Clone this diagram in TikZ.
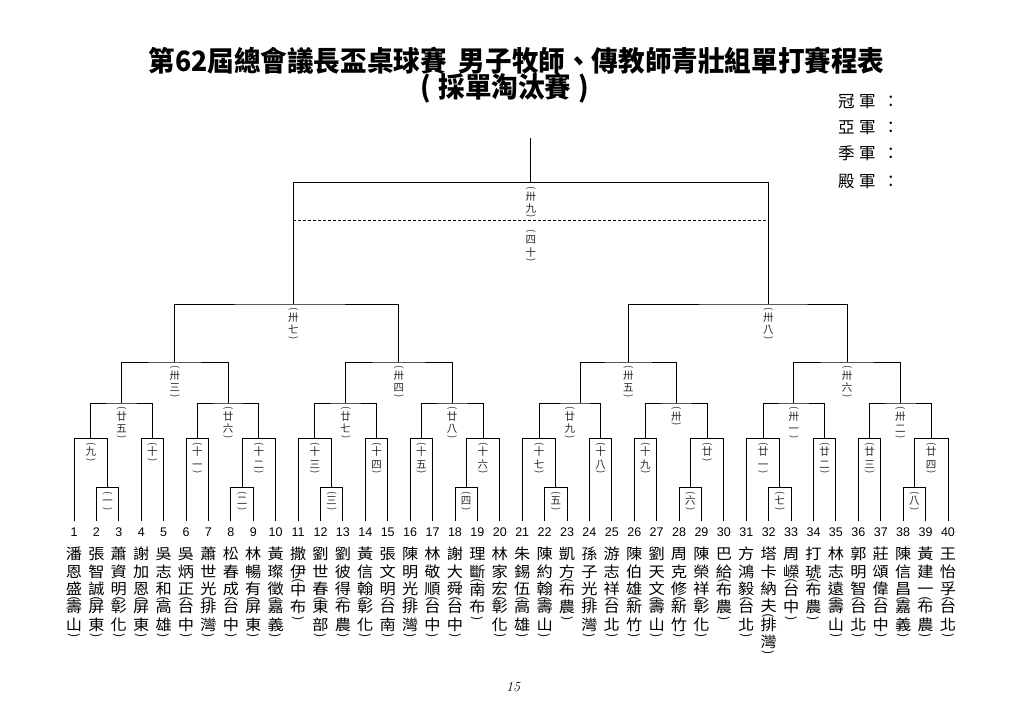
\documentclass[tikz,border=0pt]{standalone}
\usepackage{fontspec}
\usepackage{graphicx}
\usepackage{tikz}
\usetikzlibrary{calc,positioning}

\newfontfamily\cjk{Noto Sans CJK TC}
\newfontfamily\titlefont[FakeStretch=0.95]{Noto Sans CJK TC}
\newfontfamily\namefont[FakeStretch=1.08]{Noto Sans CJK TC}
\newfontfamily\numfont{Liberation Sans}

% vertical text: one box per character
\def\vrow#1{\hbox to 1em{\hss\vrule height .95em depth .21em width 0pt #1\hss}}
\let\vstackend\relax
\def\vstack#1{\vstackloop#1\vstackend}
\def\vstackloop#1{\ifx#1\vstackend\else\vrow{#1}\expandafter\vstackloop\fi}
% parentheses turned for vertical text
\def\npo{\hbox to 1em{\hss\raisebox{1.5pt}[0pt][0pt]{\rotatebox{-90}{\fontsize{12}{12}\selectfont(}}\hss}\kern1pt}
\def\npc{\hbox to 1em{\hss\raisebox{0pt}[0pt][4pt]{\rotatebox{-90}{\fontsize{12}{12}\selectfont)}}\hss}}
\def\lpo{\hbox to 1em{\hss\raisebox{4pt}[4.5pt][0pt]{\rotatebox{-90}{\fontsize{9.5}{9.5}\selectfont(}}\hss}}
\def\lpc{\hbox to 1em{\hss\raisebox{0pt}[0pt][4pt]{\rotatebox{-90}{\fontsize{9.5}{9.5}\selectfont)}}\hss}}
\newcommand\pname[2]{\vbox{\offinterlineskip
  \expandafter\vstack\expandafter{#1}\npo
  \expandafter\vstack\expandafter{#2}\npc}}
\newcommand\mlab[1]{\vbox{\offinterlineskip\lpo\vstack{#1}\lpc}}
% one match: [x of winner line]{name}{side a}{side b}{level}{number}
\newcommand\match[6][]{%
  \path ($(#3)!.5!(#4)$) coordinate (c#2);
  \ifx\relax#1\relax\coordinate (#2) at (c#2 |- 0,#5);\else\coordinate (#2) at (#1,#5);\fi
  \draw[bracket] (#3) |- (#2) -| (#4);
  \node[mlabel] (l#2) at (#2) {\mlab{#6}};
}

\begin{document}
\begin{tikzpicture}[x=1pt, y=-1pt, font=\cjk,
  bracket/.style={line width=0.9pt},
  mlabel/.style={anchor=north, yshift=-3pt, inner sep=0pt, text=black!85, font=\cjk\fontsize{10.5}{10.5}\selectfont},
  num/.style={inner sep=0pt, font=\numfont\fontsize{12.5}{12.5}\selectfont},
  pname/.style={anchor=north, inner sep=0pt, font=\namefont\fontsize{15}{18}\selectfont},
  rank/.style={anchor=west, inner sep=0pt, font=\cjk\fontsize{16.5}{16.5}\selectfont}]
\useasboundingbox (0,0) rectangle (1026,723);
% title
\node[font=\titlefont\bfseries\fontsize{28}{28}\selectfont] (title) at (516.5,61) {第62屆總會議長盃桌球賽\hspace{12pt}男子牧師、傳教師青壯組單打賽程表};
\node[font=\titlefont\bfseries\fontsize{28}{28}\selectfont] (subtitle) at (505,88) {(\hspace{7pt}採單淘汰賽\hspace{7pt})};
% places
\foreach \t/\y [count=\k] in {冠/101.7, 亞/127.7, 季/153.3, 殿/181.7}
  \node[rank] (rank\k) at (838,\y) {\t\kern4.5pt 軍\kern7pt ：};
% players
\foreach \nm/\rg [count=\i] in {潘恩盛/壽山,張智誠/屏東,蕭資明/彰化,謝加恩/屏東,吳志和/高雄,
  吳炳正/台中,蕭世光/排灣,松春成/台中,林暢有/屏東,黃璨徵/嘉義,
  撒伊/中布,劉世春/東部,劉彼得/布農,黃信翰/彰化,張文明/台南,
  陳明光/排灣,林敬順/台中,謝大舜/台中,理斷/南布,林家宏/彰化,
  朱錫伍/高雄,陳約翰/壽山,凱方/布農,孫子光/排灣,游志祥/台北,
  陳伯雄/新竹,劉天文/壽山,周克修/新竹,陳榮祥/彰化,巴給/布農,
  方鴻毅/台北,塔卡納夫/排灣,周嶸/台中,打琥/布農,林志遠/壽山,
  郭明智/台北,莊頌偉/台中,陳信昌/嘉義,黃建一/布農,王怡孚/台北}{
  \coordinate (p\i) at ({74+(\i-1)*22.41},521);
  \node[num] (n\i) at (p\i |- 0,532) {\i};
  \node[pname] (nm\i) at (p\i |- 0,545.3) {\pname{\nm}{\rg}};
}
% first round
\match{m1}{p2}{p3}{487.3}{一}
\match{m2}{p8}{p9}{487.3}{二}
\match{m3}{p12}{p13}{487.3}{三}
\match{m4}{p18}{p19}{487.3}{四}
\match{m5}{p22}{p23}{487.3}{五}
\match{m6}{p28}{p29}{487.3}{六}
\match{m7}{p32}{p33}{487.3}{七}
\match{m8}{p38}{p39}{487.3}{八}
% second round
\match{m9}{p1}{m1}{438.3}{九}
\match{m10}{p4}{p5}{438.3}{十}
\match{m11}{p6}{p7}{438.3}{十一}
\match{m12}{m2}{p10}{438.3}{十二}
\match{m13}{p11}{m3}{438.3}{十三}
\match{m14}{p14}{p15}{438.3}{十四}
\match{m15}{p16}{p17}{438.3}{十五}
\match{m16}{m4}{p20}{438.3}{十六}
\match{m17}{p21}{m5}{438.3}{十七}
\match{m18}{p24}{p25}{438.3}{十八}
\match{m19}{p26}{p27}{438.3}{十九}
\match{m20}{m6}{p30}{438.3}{廿}
\match{m21}{p31}{m7}{438.3}{廿一}
\match{m22}{p34}{p35}{438.3}{廿二}
\match{m23}{p36}{p37}{438.3}{廿三}
\match{m24}{m8}{p40}{438.3}{廿四}
% third round
\match{m25}{m9}{m10}{403}{廿五}
\match{m26}{m11}{m12}{403}{廿六}
\match{m27}{m13}{m14}{403}{廿七}
\match{m28}{m15}{m16}{403}{廿八}
% (廿九) sits mid-line, its winner line is off centre
\path ($(m17)!.5!(m18)$) coordinate (cm29);
\coordinate (m29) at (580.5,403);
\draw[bracket] (m17) |- (m29) -| (m18);
\node[mlabel] (lm29) at (cm29 |- m29) {\mlab{廿九}};
\match{m30}{m19}{m20}{403}{卅}
\match{m31}{m21}{m22}{403}{卅一}
\match{m32}{m23}{m24}{403}{卅二}
% quarter and semi finals
\match{m33}{m25}{m26}{362}{卅三}
\match{m34}{m27}{m28}{362}{卅四}
\match{m35}{m29}{m30}{362}{卅五}
\match{m36}{m31}{m32}{362}{卅六}
\match[293.3]{m37}{m33}{m34}{304}{卅七}
\match[768.4]{m38}{m35}{m36}{304}{卅八}
% final and third place
\match{m39}{m37}{m38}{182.7}{卅九}
\coordinate (top) at (m39 |- 0,138.3);
\draw[bracket] (m39) -- (top);
\coordinate (dsh) at (0,220.7);
\draw[line width=0.8pt, dash pattern=on 3pt off 2pt] (m37 |- dsh) -- (m38 |- dsh);
\node[mlabel] (lm40) at ($(m39 |- dsh)+(0,5.5)$) {\mlab{四十}};
% page number
\node[font=\rmfamily\itshape\fontsize{14}{14}\selectfont] (page) at (513,687) {15};
\end{tikzpicture}
\end{document}
